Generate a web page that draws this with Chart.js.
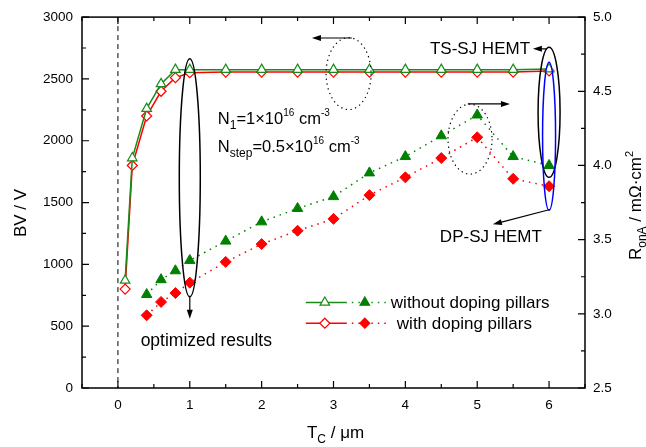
<!DOCTYPE html>
<html lang="en">
<head>
  <meta charset="UTF-8" />
  <title>BV and RonA versus Tc</title>
  <script src="https://cdn.jsdelivr.net/npm/chart.js"></script>
  <style>
    body { margin: 0; background: #fff; }
    #wrap { width: 646px; height: 447px; }
  </style>
</head>
<body>
  <div id="wrap"><canvas id="chartCanvas" width="646" height="447"></canvas></div>

  <script>
    // breakdown voltage (left axis, V)
    const tcBV = [0.1, 0.2, 0.4, 0.6, 0.8, 1, 1.5, 2, 2.5, 3, 3.5, 4, 4.5, 5, 5.5, 6];
    const bvWithout = [870, 1860, 2260, 2460, 2575, 2575, 2575, 2575, 2575, 2575, 2575, 2575, 2575, 2575, 2575, 2580];
    const bvWith = [800, 1800, 2200, 2400, 2510, 2550, 2555, 2555, 2555, 2555, 2555, 2555, 2555, 2555, 2555, 2565];

    // specific on-resistance (right axis, mOhm.cm2)
    const tcRon = [0.4, 0.6, 0.8, 1, 1.5, 2, 2.5, 3, 3.5, 4, 4.5, 5, 5.5, 6];
    const ronWithout = [3.13, 3.23, 3.29, 3.36, 3.49, 3.62, 3.71, 3.79, 3.95, 4.06, 4.20, 4.34, 4.06, 4.00];
    const ronWith = [2.99, 3.08, 3.14, 3.21, 3.35, 3.47, 3.56, 3.64, 3.80, 3.92, 4.05, 4.19, 3.91, 3.86];

    const xTicks = [0, 1, 2, 3, 4, 5, 6];
    const bvTicks = [0, 500, 1000, 1500, 2000, 2500, 3000];
    const ronTicks = [2.5, 3.0, 3.5, 4.0, 4.5, 5.0];

    const GREEN = "#1a8a1a";
    const GREEN_FILL = "#008000";
    const RED = "#ff0000";
    const FONT = "Arial, 'Liberation Sans', sans-serif";

    Chart.defaults.font.family = FONT;
    Chart.defaults.color = "#000";

    const pairs = (xs, ys) => xs.map((x, i) => ({ x: x, y: ys[i] }));

    // draws text made of runs: [text, size, baselineShift]
    function richWidth(ctx, parts) {
      let w = 0;
      parts.forEach(p => { ctx.font = p[1] + "px " + FONT; w += ctx.measureText(p[0]).width; });
      return w;
    }
    function drawRich(ctx, x, y, parts, align) {
      let cx = x;
      if (align === "center") cx -= richWidth(ctx, parts) / 2;
      if (align === "right") cx -= richWidth(ctx, parts);
      ctx.textAlign = "left";
      ctx.textBaseline = "alphabetic";
      parts.forEach(p => {
        ctx.font = p[1] + "px " + FONT;
        ctx.fillText(p[0], cx, y + (p[2] || 0));
        cx += ctx.measureText(p[0]).width;
      });
    }

    function arrow(ctx, x1, y1, x2, y2) {
      const a = Math.atan2(y2 - y1, x2 - x1);
      ctx.beginPath();
      ctx.moveTo(x1, y1);
      ctx.lineTo(x2 - Math.cos(a) * 6, y2 - Math.sin(a) * 6);
      ctx.stroke();
      ctx.beginPath();
      ctx.moveTo(x2, y2);
      ctx.lineTo(x2 - Math.cos(a) * 9 + Math.sin(a) * 3, y2 - Math.sin(a) * 9 - Math.cos(a) * 3);
      ctx.lineTo(x2 - Math.cos(a) * 9 - Math.sin(a) * 3, y2 - Math.sin(a) * 9 + Math.cos(a) * 3);
      ctx.closePath();
      ctx.fill();
    }

    function ellipse(ctx, cx, cy, rx, ry, color, dash) {
      ctx.save();
      ctx.strokeStyle = color;
      ctx.lineWidth = dash ? 1.2 : 1.5;
      ctx.setLineDash(dash || []);
      ctx.beginPath();
      ctx.ellipse(cx, cy, rx, ry, 0, 0, Math.PI * 2);
      ctx.stroke();
      ctx.restore();
    }

    function marker(ctx, style, x, y, r, stroke, fill) {
      ctx.beginPath();
      if (style === "triangle") {
        for (let k = 0; k < 3; k++) {
          const a = k * 2 * Math.PI / 3;
          const px = x + Math.sin(a) * r, py = y - Math.cos(a) * r;
          k ? ctx.lineTo(px, py) : ctx.moveTo(px, py);
        }
      } else {
        ctx.moveTo(x, y - r); ctx.lineTo(x + r, y); ctx.lineTo(x, y + r); ctx.lineTo(x - r, y);
      }
      ctx.closePath();
      ctx.fillStyle = fill;
      ctx.fill();
      ctx.strokeStyle = stroke;
      ctx.lineWidth = 1.2;
      ctx.setLineDash([]);
      ctx.stroke();
    }

    const decor = {
      id: "decor",
      beforeDatasetsDraw(chart) {
        const ctx = chart.ctx, a = chart.chartArea, xs = chart.scales.x;
        ctx.save();
        ctx.strokeStyle = "#000";
        ctx.lineWidth = 1;
        ctx.setLineDash([5, 4]);
        const x0 = xs.getPixelForValue(0);
        ctx.beginPath();
        ctx.moveTo(x0, a.top);
        ctx.lineTo(x0, a.bottom);
        ctx.stroke();
        ctx.restore();
      },
      afterDatasetsDraw(chart) {
        const ctx = chart.ctx, a = chart.chartArea;
        const xs = chart.scales.x, yb = chart.scales.yBV, yr = chart.scales.yR;
        const X = v => xs.getPixelForValue(v);
        const Y = v => yb.getPixelForValue(v);
        ctx.save();

        // frame with inward ticks
        ctx.strokeStyle = "#000";
        ctx.fillStyle = "#000";
        ctx.lineWidth = 1.5;
        ctx.setLineDash([]);
        ctx.strokeRect(a.left, a.top, a.right - a.left, a.bottom - a.top);
        ctx.lineWidth = 1.2;
        ctx.beginPath();
        for (let v = -0.5; v <= 6.5001; v += 0.5) {
          const p = X(v), len = Number.isInteger(v) ? 7 : 4;
          ctx.moveTo(p, a.bottom); ctx.lineTo(p, a.bottom - len);
          ctx.moveTo(p, a.top); ctx.lineTo(p, a.top + len);
        }
        for (let v = 0; v <= 3000; v += 250) {
          const p = Y(v), len = v % 500 === 0 ? 7 : 4;
          ctx.moveTo(a.left, p); ctx.lineTo(a.left + len, p);
        }
        for (let k = 0; k <= 10; k++) {
          const p = yr.getPixelForValue(2.5 + k * 0.25), len = k % 2 === 0 ? 7 : 4;
          ctx.moveTo(a.right, p); ctx.lineTo(a.right - len, p);
        }
        ctx.stroke();

        // highlighted regions
        ellipse(ctx, X(1), Y(1700), 10.5, 119, "#000");
        ellipse(ctx, X(6), Y(2230), 11, 65, "#000");
        ellipse(ctx, X(6), Y(2037), 6.5, 74, "#0000ff");
        ellipse(ctx, X(3.21), Y(2543), 22.5, 36, "#000", [1.3, 3.5]);
        ellipse(ctx, X(4.9), Y(2013), 22, 35, "#000", [1.3, 3.5]);

        ctx.strokeStyle = "#000";
        ctx.fillStyle = "#000";
        ctx.lineWidth = 1.2;
        arrow(ctx, X(1), Y(746), X(1), Y(561));
        arrow(ctx, X(3.255), Y(2831), X(2.70), Y(2831));
        arrow(ctx, X(4.87), Y(2298), X(5.455), Y(2298));
        arrow(ctx, X(5.97), Y(2743), X(5.775), Y(2743));
        arrow(ctx, X(6.013), Y(1444), X(5.218), Y(1324));

        // labels
        drawRich(ctx, X(5.735), Y(2703), [["TS-SJ HEMT", 17]], "right");
        drawRich(ctx, X(4.48), Y(1179), [["DP-SJ HEMT", 17]]);
        drawRich(ctx, X(0.316), Y(337), [["optimized results", 17.5]]);
        drawRich(ctx, X(1.39), Y(2134), [["N", 16.5], ["1", 12, 5], ["=1\u00d710", 16.5], ["16", 10, -8], [" cm", 16.5], ["-3", 10, -8]]);
        drawRich(ctx, X(1.39), Y(1909), [["N", 16.5], ["step", 12, 5], ["=0.5\u00d710", 16.5], ["16", 10, -8], [" cm", 16.5], ["-3", 10, -8]]);

        // legend
        const rows = [
          { y: Y(692), color: GREEN, fill: GREEN_FILL, style: "triangle", r: 5.5, text: "without doping pillars", tx: 85 },
          { y: Y(524), color: RED, fill: RED, style: "diamond", r: 5, text: "with doping pillars", tx: 91 }
        ];
        const lx = X(2.615);
        rows.forEach(row => {
          ctx.strokeStyle = row.color;
          ctx.lineWidth = 1.5;
          ctx.setLineDash([]);
          ctx.beginPath();
          ctx.moveTo(lx, row.y); ctx.lineTo(lx + 41, row.y);
          ctx.stroke();
          marker(ctx, row.style, lx + 19, row.y, row.r, row.color, "#fff");
          ctx.strokeStyle = row.color;
          ctx.lineWidth = 1.5;
          ctx.setLineDash([1.5, 5]);
          ctx.beginPath();
          ctx.moveTo(lx + 46, row.y); ctx.lineTo(lx + 82, row.y);
          ctx.stroke();
          marker(ctx, row.style, lx + 59, row.y, row.r, row.fill, row.fill);
          ctx.fillStyle = "#000";
          drawRich(ctx, lx + row.tx, row.y + 6, [[row.text, 17]]);
        });

        // axis titles
        drawRich(ctx, (a.left + a.right) / 2 + 2, 438, [["T", 17], ["C", 12, 5], [" / \u03bcm", 17]], "center");
        ctx.save();
        ctx.translate(25.5, 213);
        ctx.rotate(-Math.PI / 2);
        drawRich(ctx, 0, 0, [["BV / V", 17]], "center");
        ctx.restore();
        ctx.save();
        ctx.translate(641, 260);
        ctx.rotate(-Math.PI / 2);
        drawRich(ctx, 0, 0, [["R", 17], ["onA", 12, 5], [" / m\u03a9\u00b7cm", 17], ["2", 11, -8]]);
        ctx.restore();

        ctx.restore();
      }
    };

    const ctx = document.getElementById("chartCanvas").getContext("2d");
    const chart = new Chart(ctx, {
      type: "line",
      data: {
        datasets: [
          {
            label: "BV without doping pillars",
            data: pairs(tcBV, bvWithout),
            yAxisID: "yBV",
            borderColor: GREEN,
            borderWidth: 1.5,
            pointStyle: "triangle",
            pointRadius: 5.5,
            pointBackgroundColor: "#fff",
            pointBorderColor: GREEN,
            pointBorderWidth: 1.2
          },
          {
            label: "BV with doping pillars",
            data: pairs(tcBV, bvWith),
            yAxisID: "yBV",
            borderColor: RED,
            borderWidth: 1.5,
            pointStyle: "rectRot",
            pointRadius: 5,
            pointBackgroundColor: "#fff",
            pointBorderColor: RED,
            pointBorderWidth: 1.2
          },
          {
            label: "RonA without doping pillars",
            data: pairs(tcRon, ronWithout),
            yAxisID: "yR",
            borderColor: GREEN_FILL,
            borderWidth: 1.5,
            borderDash: [1.5, 5],
            pointStyle: "triangle",
            pointRadius: 6,
            pointBackgroundColor: GREEN_FILL,
            pointBorderColor: GREEN_FILL,
            pointBorderWidth: 1
          },
          {
            label: "RonA with doping pillars",
            data: pairs(tcRon, ronWith),
            yAxisID: "yR",
            borderColor: RED,
            borderWidth: 1.5,
            borderDash: [1.5, 5],
            pointStyle: "rectRot",
            pointRadius: 5.5,
            pointBackgroundColor: RED,
            pointBorderColor: RED,
            pointBorderWidth: 1
          }
        ]
      },
      options: {
        responsive: false,
        animation: false,
        layout: { padding: { top: 14, left: 0, right: 0, bottom: 0 } },
        plugins: { legend: { display: false }, tooltip: { enabled: false } },
        elements: { line: { tension: 0 } },
        scales: {
          x: {
            type: "linear",
            min: -0.5,
            max: 6.5,
            afterBuildTicks: s => { s.ticks = xTicks.map(v => ({ value: v })); },
            afterFit: s => { s.height = 59; },
            grid: { display: false, drawTicks: false },
            border: { display: false },
            ticks: { font: { size: 13.5 }, padding: 9, callback: v => String(v) }
          },
          yBV: {
            type: "linear",
            position: "left",
            min: 0,
            max: 3000,
            afterBuildTicks: s => { s.ticks = bvTicks.map(v => ({ value: v })); },
            afterFit: s => { s.width = 82; },
            grid: { display: false, drawTicks: false },
            border: { display: false },
            ticks: { font: { size: 13.5 }, padding: 9, callback: v => String(v) }
          },
          yR: {
            type: "linear",
            position: "right",
            min: 2.5,
            max: 5,
            afterBuildTicks: s => { s.ticks = ronTicks.map(v => ({ value: v })); },
            afterFit: s => { s.width = 61; },
            grid: { display: false, drawTicks: false },
            border: { display: false },
            ticks: { font: { size: 13.5 }, padding: 8, callback: v => v.toFixed(1) }
          }
        }
      },
      plugins: [decor]
    });
  </script>
</body>
</html>
